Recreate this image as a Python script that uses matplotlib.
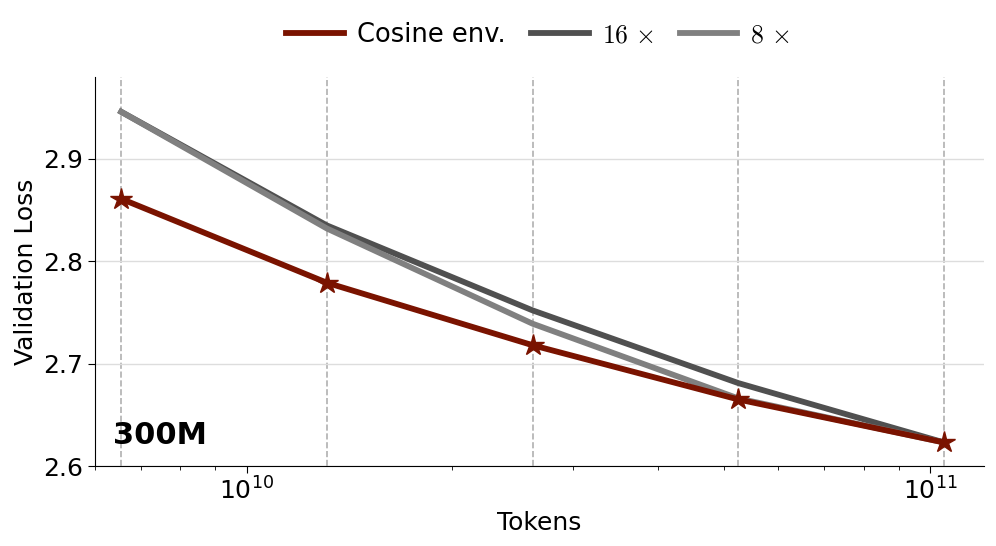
import matplotlib.pyplot as plt
from matplotlib.font_manager import FontProperties

# Tokens seen at each checkpoint (300M model)
tokens = [6.5536e9, 1.31072e10, 2.62144e10, 5.24288e10, 1.048576e11]

# Validation loss per schedule
cosine_env = [2.861, 2.779, 2.718, 2.665, 2.623]
loss_16x = [2.946, 2.835, 2.752, 2.681, 2.623]
loss_8x = [2.946, 2.832, 2.739, 2.666, 2.623]

fig = plt.figure(figsize=(9.96, 5.46), dpi=100)
ax = fig.add_axes([0.0954, 0.1465, 0.8926, 0.7125])

for t in tokens:
    ax.axvline(t, color='#b0b0b0', linestyle='--', linewidth=1.2, zorder=0)

ax.plot(tokens, loss_16x, color='#505050', linewidth=4.2, label=r'$16\,\times$', zorder=2)
ax.plot(tokens, loss_8x, color='#808080', linewidth=4.2, label=r'$8\,\times$', zorder=3)
ax.plot(tokens, cosine_env, color='#7a1300', linewidth=4.2, marker='*', markersize=16,
        label='Cosine env.', zorder=4)

ax.set_xscale('log')
ax.set_xlim(6e9, 1.2e11)
ax.set_ylim(2.6, 2.98)
ax.set_yticks([2.6, 2.7, 2.8, 2.9])
ax.yaxis.grid(True, color='#dddddd', linewidth=1.0)
ax.set_axisbelow(True)

ax.spines['top'].set_visible(False)
ax.spines['right'].set_visible(False)
ax.tick_params(axis='both', which='major', labelsize=18, length=5)
ax.tick_params(axis='x', which='minor', length=3)

ax.set_xlabel('Tokens', fontsize=18)
ax.set_ylabel('Validation Loss', fontsize=18)

ax.text(0.02, 0.057, '300M', transform=ax.transAxes, fontsize=22, fontweight='bold')

handles, labels = ax.get_legend_handles_labels()
order = [2, 0, 1]
ax.legend([handles[i] for i in order], [labels[i] for i in order],
          loc='lower center', bbox_to_anchor=(0.498, 1.015), ncol=3, frameon=False,
          prop=FontProperties(size=18.5, math_fontfamily='cm'),
          handlelength=2.25, columnspacing=1.0, handletextpad=0.5)
for line in ax.get_legend().get_lines():
    line.set_marker('')

fig.savefig('out.png')
